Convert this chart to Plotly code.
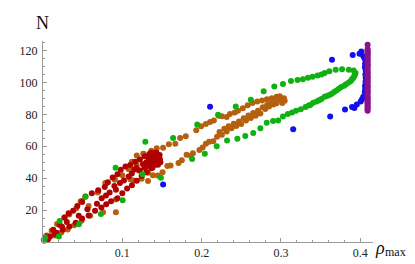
import plotly.graph_objects as go

# ---- data (rho_max, N) ----
red_x = [0.0028, 0.0129, 0.021, 0.0271, 0.0323, 0.038, 0.0433, 0.0493, 0.0535, 0.0615, 0.0696, 0.0778,
         0.0818, 0.0878, 0.0939, 0.098, 0.104, 0.110, 0.1162, 0.1222, 0.1283, 0.1344,
         0.0089, 0.017, 0.025, 0.0332, 0.0413, 0.0493, 0.0575, 0.0656, 0.0736, 0.0797, 0.0858, 0.0939,
         0.100, 0.106, 0.1121, 0.1182, 0.1243, 0.1306, 0.1365, 0.1405,
         0.09, 0.102, 0.108, 0.0794, 0.118, 0.126,
         0.1353, 0.140, 0.145, 0.1413, 0.1377, 0.1437, 0.1474, 0.140, 0.1328, 0.1445, 0.1366, 0.1425, 0.1305,
         0.134, 0.134, 0.137, 0.143, 0.147, 0.148, 0.145, 0.139, 0.136, 0.142, 0.131, 0.138,
         0.006, 0.015, 0.024, 0.030, 0.045, 0.056, 0.068, 0.074, 0.084, 0.092, 0.097, 0.112, 0.115,
         0.122, 0.128, 0.130]
red_y = [3.4, 7.7, 10.7, 15.3, 18.0, 19.6, 22.6, 25.1, 28.5, 30.5, 32.5, 34.5,
         37.4, 40.4, 42.4, 45.3, 47.4, 48.3, 50.3, 51.7, 53.7, 55.3,
         3.4, 5.8, 7.7, 9.7, 12.1, 14.7, 16.6, 19.6, 21.6, 23.6, 25.5, 27.5,
         30.5, 33.5, 35.5, 38.4, 41.4, 43.8, 46.3, 48.3,
         35.1, 38.6, 41.0, 29.2, 46.4, 48.8,
         51.7, 53.5, 52.3, 50.5, 49.9, 54.7, 51.7, 51.7, 52.9, 49.0, 55.6, 56.0, 50.0,
         50.0, 54.0, 56.0, 56.0, 54.5, 50.0, 48.5, 48.0, 52.5, 51.0, 47.5, 46.5,
         1.5, 5.0, 9.5, 12.5, 16.5, 20.5, 24.0, 27.5, 31.0, 32.8, 37.0, 43.0, 45.5,
         44.8, 46.5, 49.5]

brown_x = [0.127, 0.1434, 0.1514, 0.1587, 0.1668, 0.1729, 0.180, 0.1932, 0.1993, 0.2053, 0.2106, 0.2154,
           0.2215, 0.2255, 0.2316, 0.2357, 0.2418, 0.2458, 0.2519, 0.258, 0.264, 0.2701, 0.2762, 0.2823,
           0.2884, 0.2944, 0.2984, 0.3038, 0.3047, 0.3017,
           0.2984, 0.2944, 0.2904, 0.285, 0.2802, 0.274, 0.268, 0.262, 0.2559, 0.2498, 0.2437, 0.2377,
           0.2316, 0.2255, 0.2194, 0.2146, 0.2094, 0.2053, 0.2012, 0.1972, 0.189, 0.1863, 0.181, 0.175,
           0.1708, 0.1608, 0.1567, 0.1507, 0.1446, 0.1364, 0.1324, 0.1243,
           0.2965, 0.2925, 0.2875, 0.2825, 0.277, 0.271, 0.265, 0.259, 0.253, 0.247, 0.2405, 0.234,
           0.2285, 0.2225,
           0.0797, 0.0906, 0.0688, 0.0493, 0.042, 0.0332, 0.0271, 0.0177, 0.0109, 0.0049, 0.001,
           0.0919, 0.0595, 0.0486, 0.0392, 0.0311, 0.0231, 0.015, 0.0068,
           0.100, 0.110, 0.1203, 0.1121, 0.1182, 0.1264, 0.1365, 0.1324, 0.1385, 0.0757, 0.0919,
           0.0785, 0.0696, 0.0474, 0.0575, 0.108, 0.118, 0.1142, 0.0899]
brown_y = [55.2, 58.8, 59.1, 61.2, 61.6, 65.2, 66.3, 70.1, 72.5, 73.9, 75.3, 76.2,
           79.2, 78.8, 78.3, 80.2, 81.2, 82.2, 83.8, 85.7, 87.2, 88.1, 88.7, 89.5,
           90.1, 91.1, 91.3, 90.1, 88.5, 87.2,
           89.1, 87.0, 86.2, 85.0, 83.3, 80.6, 79.2, 77.8, 76.2, 73.9, 72.7, 71.3,
           69.3, 67.3, 66.0, 63.2, 62.8, 61.6, 59.2, 57.6, 55.7, 54.1, 54.7, 51.3,
           49.6, 48.0, 47.7, 43.7, 41.7, 52.9, 38.2, 39.6,
           89.8, 88.2, 86.9, 85.9, 84.4, 82.3, 80.9, 79.3, 77.6, 75.6, 74.2, 72.6,
           71.0, 69.0,
           36.7, 39.0, 31.1, 25.7, 21.2, 17.2, 15.3, 11.3, 7.0, 4.0, 1.4,
           26.7, 16.5, 13.3, 10.5, 7.9, 5.9, 4.0, 2.0,
           41.8, 39.4, 45.0, 50.3, 54.2, 55.3, 57.2, 43.4, 41.8, 18.6, 18.6,
           37.0, 31.5, 25.5, 22.6, 45.6, 48.5, 38.6, 39.6]

green_x = [0.1486, 0.188, 0.204, 0.219, 0.232, 0.245, 0.255, 0.265, 0.274, 0.282, 0.290, 0.2965,
           0.3025, 0.3086, 0.314, 0.319, 0.325, 0.331, 0.335, 0.3406, 0.345, 0.351, 0.355, 0.361,
           0.367, 0.373, 0.3795, 0.3855, 0.3895, 0.3925, 0.394, 0.3916, 0.3855,
           0.337, 0.348, 0.358, 0.364, 0.370, 0.376, 0.382, 0.388, 0.391, 0.393,
           0.377, 0.369, 0.361, 0.355, 0.351, 0.346, 0.3397, 0.334, 0.3276, 0.3208, 0.3126, 0.3025,
           0.2916, 0.2782, 0.262, 0.243, 0.2207, 0.1944, 0.164, 0.129,
           0.0915, 0.1255, 0.1004, 0.0535, 0.073, 0.0453, 0.021, 0.020, 0.0028, 0.0016]
green_y = [40.2, 52.1, 55.3, 60.0, 63.6, 64.8, 66.5, 68.3, 71.3, 74.7, 75.9, 76.2,
           78.7, 80.2, 81.2, 82.2, 83.2, 84.6, 85.6, 87.3, 88.1, 89.7, 91.1, 92.1,
           94.1, 96.1, 98.0, 100.0, 102.0, 104.0, 106.0, 107.5, 108.0,
           85.9, 88.9, 91.5, 93.0, 95.0, 97.1, 98.9, 101.0, 102.8, 104.9,
           108.3, 108.0, 107.0, 106.0, 105.0, 104.4, 103.6, 103.0, 102.0, 101.6, 101.0, 99.0,
           97.4, 94.5, 89.1, 85.0, 79.8, 73.7, 65.2, 62.8,
           46.6, 42.5, 26.1, 28.3, 17.6, 11.1, 13.2, 3.4, 2.8, 0.8]

blue_x = [0.1514, 0.2106, 0.3154, 0.362, 0.3643, 0.3904,
          0.3807, 0.3896, 0.3956, 0.4005, 0.4038, 0.4056, 0.406, 0.4068, 0.4068, 0.406, 0.4056,
          0.4038, 0.399, 0.4013, 0.3925, 0.4022, 0.4062, 0.4066, 0.4064, 0.4058]
blue_y = [36.1, 84.8, 70.7, 78.7, 114.3, 117.2,
          83.0, 84.6, 86.2, 88.1, 91.0, 94.0, 98.0, 103.0, 107.5, 111.7, 114.7,
          116.5, 118.0, 119.4, 84.0, 89.5, 96.0, 100.5, 105.0, 109.5]

purple_y = [82.3, 83.3, 84.5, 85.4, 86.6, 87.5, 88.7, 89.6, 90.8, 91.7, 92.9, 93.8, 95.0, 95.9,
            97.1, 98.0, 99.2, 100.1, 101.3, 102.2, 103.4, 104.3, 105.5, 106.4, 107.6, 108.5,
            109.7, 110.6, 111.8, 112.7, 113.9, 114.8, 116.0, 116.9, 118.1, 119.0, 120.2, 121.0, 123.6]
purple_x = [0.4092, 0.4090, 0.4094, 0.4091, 0.4093, 0.4090, 0.4092, 0.4094, 0.4091, 0.4092,
            0.4090, 0.4093, 0.4092, 0.4091, 0.4094, 0.4092, 0.4090, 0.4093, 0.4091, 0.4092,
            0.4094, 0.4090, 0.4092, 0.4093, 0.4091, 0.4092, 0.4090, 0.4094, 0.4092, 0.4091,
            0.4093, 0.4092, 0.4090, 0.4092, 0.4094, 0.4091, 0.4092, 0.4092, 0.4092]

x_ticks = [0.1, 0.2, 0.3, 0.4]
x_tick_text = ["0.1", "0.2", "0.3", "0.4"]
y_ticks = [20, 40, 60, 80, 100, 120]
y_tick_text = ["20", "40", "60", "80", "100", "120"]

fig = go.Figure()
series = [
    (brown_x, brown_y, "#b4600f"),
    (red_x, red_y, "#b00000"),
    (green_x, green_y, "#10b010"),
    (blue_x, blue_y, "#1010f0"),
    (purple_x, purple_y, "#8a128a"),
]
for xs, ys, col in series:
    fig.add_trace(go.Scatter(x=xs, y=ys, mode="markers", cliponaxis=False,
                             marker=dict(size=6, color=col, line=dict(width=0)),
                             showlegend=False, hoverinfo="skip"))

axis_col = "#9a9a9a"
tick_font = dict(family="Liberation Serif", size=12, color="#222222")
fig.update_layout(
    width=415, height=264,
    margin=dict(l=23, r=50, t=33, b=19),
    paper_bgcolor="white", plot_bgcolor="white",
    xaxis=dict(range=[0, 0.416], showgrid=False, zeroline=False, showline=True, linecolor=axis_col,
               linewidth=1, ticks="inside", ticklen=4, tickcolor=axis_col, tickvals=x_ticks,
               ticktext=x_tick_text, tickfont=tick_font,
               minor=dict(dtick=0.02, tick0=0, ticks="inside", ticklen=2, tickcolor=axis_col)),
    yaxis=dict(range=[0, 126], showgrid=False, zeroline=False, showline=True, linecolor=axis_col,
               linewidth=1, ticks="inside", ticklen=4, tickcolor=axis_col, tickvals=y_ticks,
               ticktext=y_tick_text, tickfont=tick_font, ticklabelstandoff=2,
               minor=dict(dtick=5, tick0=0, ticks="inside", ticklen=2, tickcolor=axis_col)),
    annotations=[
        dict(text="N", xref="paper", yref="paper", x=-0.003, y=1.092, showarrow=False,
             xanchor="center", yanchor="middle",
             font=dict(family="Liberation Serif", size=18, color="#111111")),
        dict(text="<i>ρ</i>", xref="paper", yref="paper", x=1.030, y=-0.03, xshift=-9,
             showarrow=False, xanchor="left", yanchor="middle", borderpad=0,
             font=dict(family="Liberation Serif", size=18, color="#111111")),
        dict(text="max", xref="paper", yref="paper", x=1.068, y=-0.05, xshift=-11,
             showarrow=False, xanchor="left", yanchor="middle", borderpad=0,
             font=dict(family="Liberation Serif", size=12, color="#111111")),
    ],
)
fig.write_html("out.html")
